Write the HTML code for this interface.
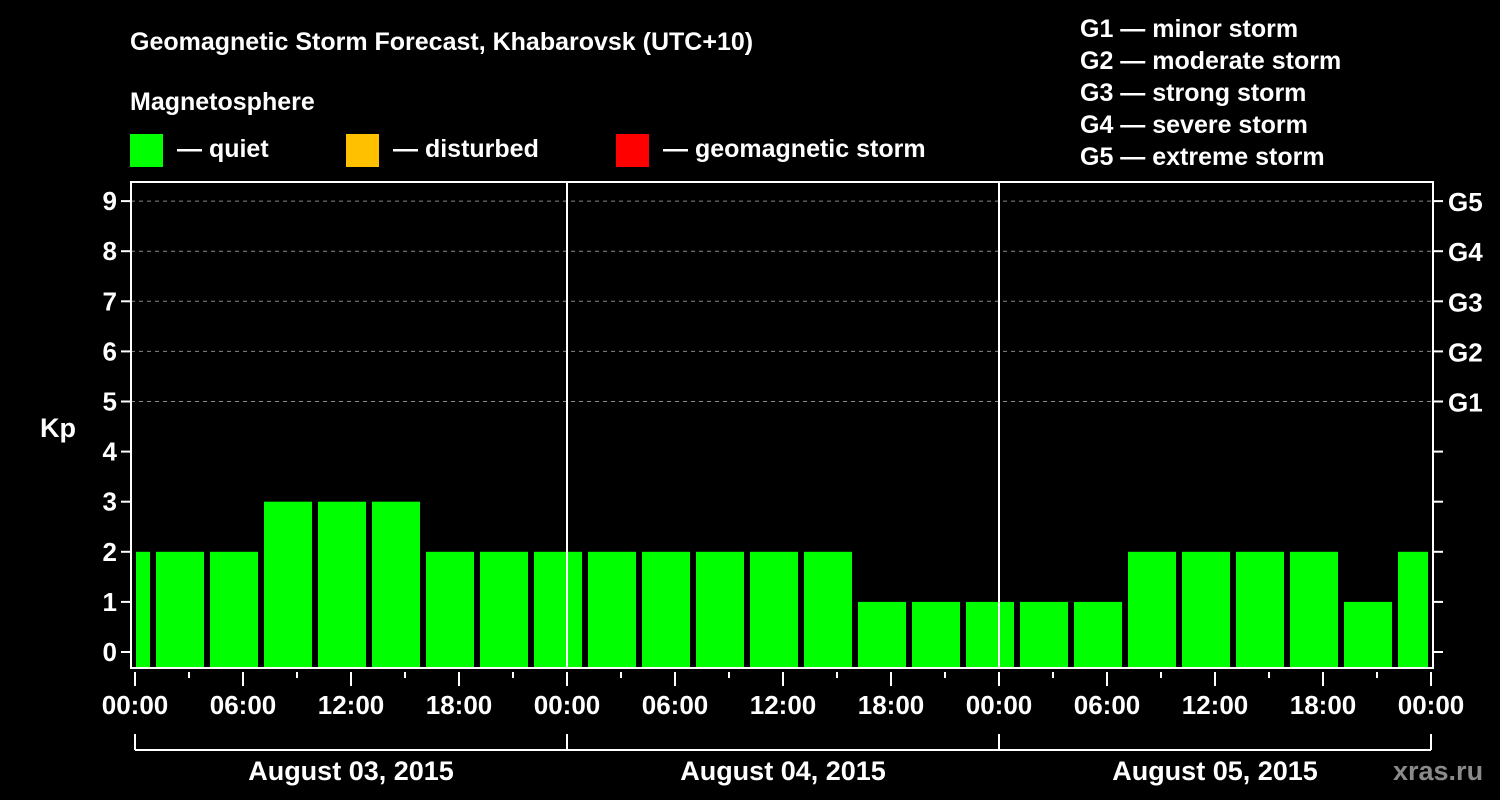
<!DOCTYPE html>
<html><head><meta charset="utf-8"><style>
body{margin:0;background:#000;width:1500px;height:800px;overflow:hidden}
svg{display:block}
text{font-family:"Liberation Sans",Arial,sans-serif;font-weight:bold;fill:#fff}
</style></head><body>
<svg id="chart" width="1500" height="800">
<text x="130" y="50" font-size="25">Geomagnetic Storm Forecast, Khabarovsk (UTC+10)</text>
<text x="130" y="110" font-size="25">Magnetosphere</text>
<rect x="130" y="134" width="33" height="33" fill="#00ff00"/>
<text x="177" y="157" font-size="25">— quiet</text>
<rect x="346" y="134" width="33" height="33" fill="#ffc000"/>
<text x="393" y="157" font-size="25">— disturbed</text>
<rect x="616" y="134" width="33" height="33" fill="#ff0000"/>
<text x="663" y="157" font-size="25">— geomagnetic storm</text>
<g font-size="25">
<text x="1080" y="37">G1 — minor storm</text>
<text x="1080" y="69">G2 — moderate storm</text>
<text x="1080" y="101">G3 — strong storm</text>
<text x="1080" y="133">G4 — severe storm</text>
<text x="1080" y="165">G5 — extreme storm</text>
</g>
<text x="40" y="437" font-size="27">Kp</text>
<g id="bars"></g>
<g id="axes"></g>
<text x="1393" y="780" font-size="27" fill="#888" style="fill:#8a8a8a">xras.ru</text>
</svg>
<script>
const kpValues=[2,2,2,3,3,3,2,2,2,2,2,2,2,2,1,1,1,1,1,2,2,2,2,1,2];
const dayLabels=["August 03, 2015","August 04, 2015","August 05, 2015"];
const hourLabels=["00:00","06:00","12:00","18:00"];
const yTicks=[0,1,2,3,4,5,6,7,8,9];
const gLabels=["G1","G2","G3","G4","G5"];
const NS="http://www.w3.org/2000/svg";
const X0=135, PXH=18, L=131, R=1433, T=182, B=668;
const xs=h=>X0+h*PXH;
const ys=v=>652-v*50.1;
function mk(tag,attrs,parent){const e=document.createElementNS(NS,tag);for(const k in attrs)e.setAttribute(k,attrs[k]);parent.appendChild(e);return e;}
const bars=document.getElementById('bars'), ax=document.getElementById('axes');
// grid
for(let v=5;v<=9;v++){
 const g=mk('line',{x1:L,x2:R,y1:ys(v),y2:ys(v),stroke:'#888','stroke-dasharray':'4,4','stroke-width':1},ax);
 
 
}
kpValues.forEach((v,i)=>{
 const c=-0.5+3*i;
 let x1=xs(c)-24, x2=xs(c)+24;
 x1=Math.max(x1,X0+1); x2=Math.min(x2,xs(72)-3);
 const col=v>=5?'#ff0000':(v>=4?'#ffc000':'#00ff00');
 const r=mk('rect',{x:x1,y:ys(v),width:x2-x1,height:B-1-ys(v),fill:col},bars);
 
 
});
// frame
const f=mk('rect',{x:L,y:T,width:R-L,height:B-T,fill:'none',stroke:'#fff','stroke-width':2},ax);


for(let d=1;d<3;d++){
 const l=mk('line',{x1:xs(24*d),x2:xs(24*d),y1:T,y2:B,stroke:'#fff','stroke-width':2},ax);
 
 
}
yTicks.forEach(v=>{
 mk('line',{x1:L-10,x2:L,y1:ys(v),y2:ys(v),stroke:'#fff','stroke-width':2},ax);
 mk('line',{x1:R,x2:R+10,y1:ys(v),y2:ys(v),stroke:'#fff','stroke-width':2},ax);
 const t=mk('text',{x:L-14,y:ys(v)+9,'text-anchor':'end','font-size':26},ax);
 t.textContent=v;
 
 
});
gLabels.forEach((g,i)=>{
 const t=mk('text',{x:R+15,y:ys(5+i)+10,'font-size':26},ax);
 t.textContent=g;
 
 
});
for(let h=0;h<=72;h+=3){
 const long=h%6===0;
 mk('line',{x1:xs(h),x2:xs(h),y1:B+4,y2:B+(long?18:10),stroke:'#fff','stroke-width':2},ax);
 if(long){
  const t=mk('text',{x:xs(h),y:714,'text-anchor':'middle','font-size':26},ax);
  t.textContent=hourLabels[(h/6)%4];
  
  
 }
}
mk('line',{x1:xs(0),x2:xs(72),y1:750,y2:750,stroke:'#fff','stroke-width':2},ax);
for(let d=0;d<=3;d++) mk('line',{x1:xs(24*d),x2:xs(24*d),y1:734,y2:750,stroke:'#fff','stroke-width':2},ax);
dayLabels.forEach((s,d)=>{
 const t=mk('text',{x:xs(24*d+12),y:780,'text-anchor':'middle','font-size':27},ax);
 t.textContent=s;
 
 
});
</script>
</body></html>
